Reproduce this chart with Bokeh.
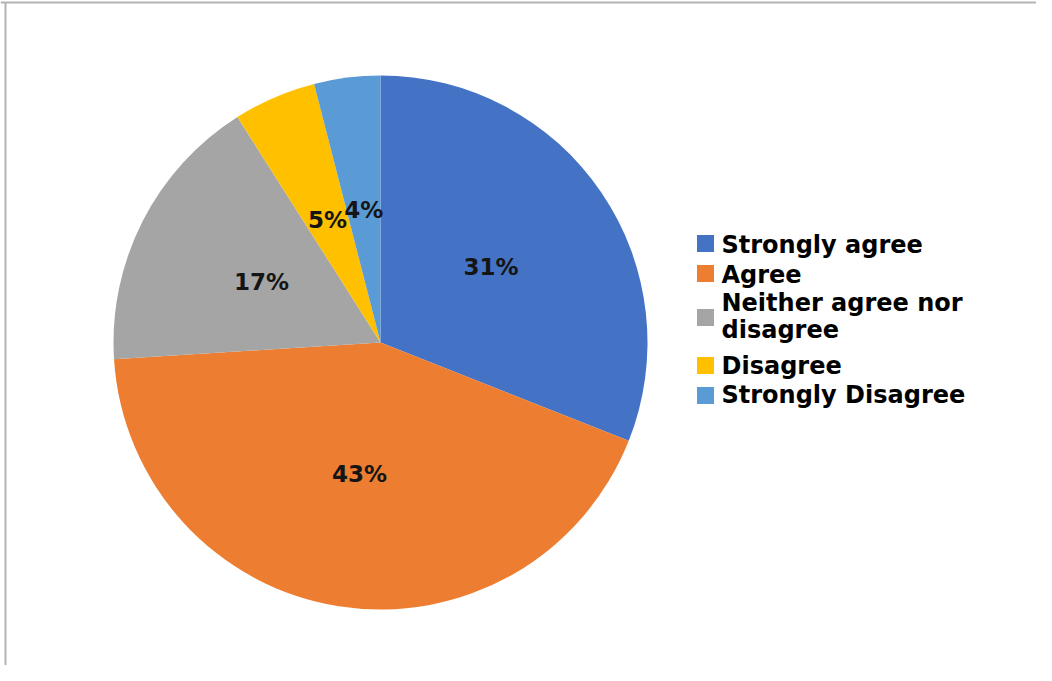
import math
from bokeh.plotting import figure
from bokeh.models import Range1d, ColumnDataSource
from bokeh.core.properties import value
from bokeh.embed import file_html
from bokeh.resources import INLINE

categories = ["Strongly agree", "Agree", "Neither agree nor disagree", "Disagree", "Strongly Disagree"]
legend_lines = [["Strongly agree"], ["Agree"], ["Neither agree nor", "disagree"], ["Disagree"], ["Strongly Disagree"]]
percents = [31, 43, 17, 5, 4]
colors = ["#4472C4", "#ED7D31", "#A5A5A5", "#FFC000", "#5B9BD5"]

W, H = 1036, 665
p = figure(width=W, height=H, output_backend="svg", toolbar_location=None,
           x_range=Range1d(0, W), y_range=Range1d(0, H), min_border=0,
           outline_line_color=None,
           background_fill_color="white", border_fill_color="white")
p.axis.visible = False
p.grid.visible = False

def fx(rx):
    return rx

def fy(ry):
    return H - ry

# frame lines (top and left only, as in the reference)
p.segment(x0=[0, fx(5)], y0=[fy(2), fy(2)], x1=[W, fx(5)], y1=[fy(2), 0],
          line_color="#b4b4b4", line_width=2)

cx, cy = fx(380), fy(342)
R = 267
total = sum(percents)

starts, ends, lx, ly, labels = [], [], [], [], []
cum = 0
for v in percents:
    a0 = 90 - cum / total * 360
    cum += v
    a1 = 90 - cum / total * 360
    starts.append(math.radians(a0))
    ends.append(math.radians(a1))
    mid = math.radians((a0 + a1) / 2)
    lx.append(cx + 0.5 * R * math.cos(mid))
    ly.append(cy + 0.5 * R * math.sin(mid))
    labels.append(f"{v}%")

src = ColumnDataSource(dict(start=starts, end=ends, color=colors))
p.wedge(x=cx, y=cy, radius=R, radius_units="screen", start_angle="start", end_angle="end",
        direction="clock", fill_color="color", line_color=None, source=src)

p.text(x=lx, y=ly, text=labels, text_align="center", text_baseline="middle",
       text_font=value("DejaVu Sans"), text_font_style="bold", text_font_size="23px",
       text_color="#151515")

# legend
sq_y = [243, 273, 317, 365, 395]
base_y = [[244], [274], [302, 329], [365], [394]]
p.rect(x=[fx(705)] * len(categories), y=[fy(v) for v in sq_y], width=17, height=17,
       width_units="screen", height_units="screen", fill_color=colors, line_color=None)
tx, ty, tt = [], [], []
for lines, bys in zip(legend_lines, base_y):
    for t, b in zip(lines, bys):
        tx.append(fx(721))
        ty.append(fy(b))
        tt.append(t)
p.text(x=tx, y=ty, text=tt, text_align="left", text_baseline="alphabetic",
       text_font=value("DejaVu Sans"), text_font_style="bold", text_font_size="24px",
       text_color="#000000")

open("out.html", "w").write(file_html(p, INLINE))
